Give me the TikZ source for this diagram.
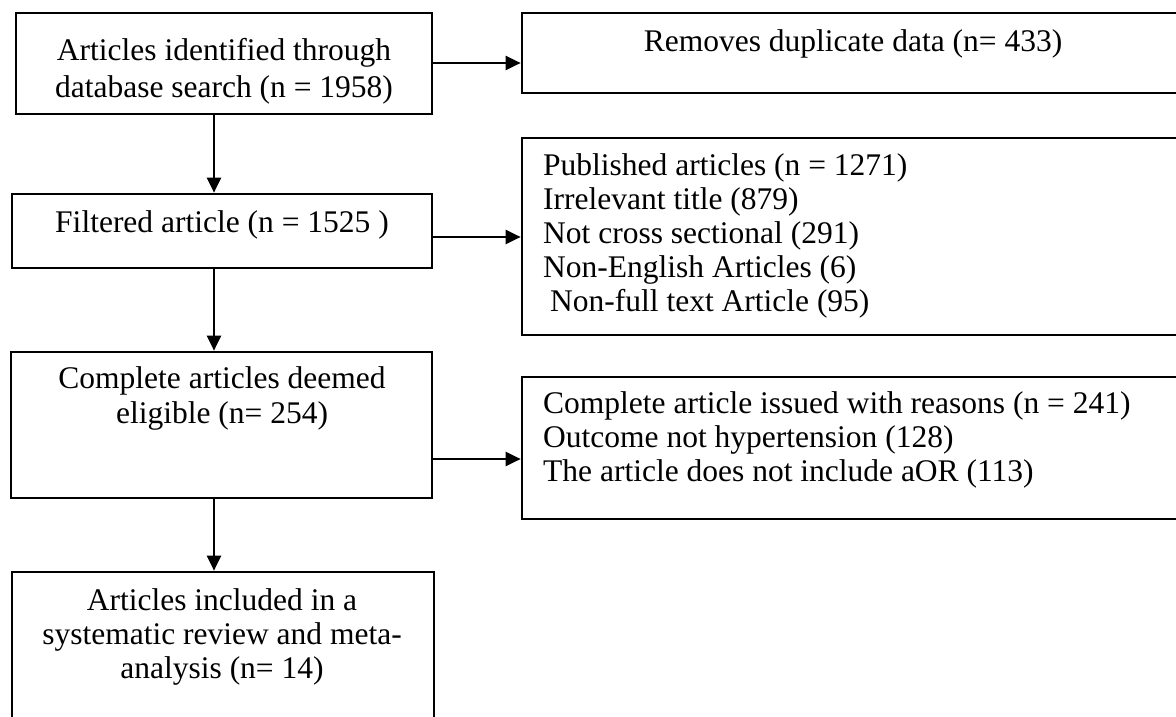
\documentclass[tikz,border=0pt]{standalone}
\usepackage{fontspec}
\setmainfont{Liberation Serif}
\usetikzlibrary{arrows.meta}
\tikzset{
  box/.style={draw=black, line width=2.7pt, rectangle, inner sep=0pt},
  txt/.style={inner sep=0pt, font=\fontsize{31.5}{34}\selectfont, text=black},
  arr/.style={line width=2.2pt, -{Triangle[length=15pt,width=14pt]}}
}
\begin{document}
\begin{tikzpicture}[x=1pt,y=-1pt]
\useasboundingbox (0,0) rectangle (1176,717);
\clip (0,0) rectangle (1176,717);
% boxes
\node[box, minimum width=416pt, minimum height=101pt] (b1) at (224,63.5) {};
\node[box, minimum width=668pt, minimum height=80pt] (b2) at (856,53) {};
\node[box, minimum width=420pt, minimum height=74pt] (b3) at (222,231) {};
\node[box, minimum width=668pt, minimum height=197pt] (b4) at (856,236.5) {};
\node[box, minimum width=421pt, minimum height=146pt] (b5) at (221.5,425) {};
\node[box, minimum width=668pt, minimum height=142pt] (b6) at (856,448) {};
\node[box, minimum width=422pt, minimum height=170pt] (b7) at (223,657) {};
% texts
\node[txt, align=center, anchor=north, font=\fontsize{31.5}{37}\selectfont] (t1) at (224,38.5) {Articles identified through\\database search (n = 1958)};
\node[txt, anchor=base] (t2) at (853,52) {Removes duplicate data (n= 433)};
\node[txt, anchor=base] (t3) at (222,232) {Filtered article (n = 1525 )};
\node[txt, align=left, anchor=north west] (t4) at (543,153.5) {Published articles (n = 1271)\\Irrelevant title (879)\\Not cross sectional (291)\\Non-English Articles (6)\\\hspace*{7pt}Non-full text Article (95)};
\node[txt, align=center, anchor=north, font=\fontsize{31.5}{35}\selectfont] (t5) at (222,366.5) {Complete articles deemed\\eligible (n= 254)};
\node[txt, align=left, anchor=north west] (t6) at (543,391.5) {Complete article issued with reasons (n = 241)\\Outcome not hypertension (128)\\The article does not include aOR (113)};
\node[txt, align=center, anchor=north] (t7) at (222,588.5) {Articles included in a\\systematic review and meta-\\analysis (n= 14)};
% connector levels
\coordinate (y1) at (0,63);
\coordinate (y3) at (0,237);
\coordinate (y5) at (0,459);
\coordinate (xc) at (214,0);
% arrows
\draw[arr] (b1.east |- y1) -- (b2.west |- y1);
\draw[arr] (xc |- b1.south) -- (xc |- b3.north);
\draw[arr] (b3.east |- y3) -- (b4.west |- y3);
\draw[arr] (xc |- b3.south) -- (xc |- b5.north);
\draw[arr] (b5.east |- y5) -- (b6.west |- y5);
\draw[arr] (xc |- b5.south) -- (xc |- b7.north);
\end{tikzpicture}
\end{document}
